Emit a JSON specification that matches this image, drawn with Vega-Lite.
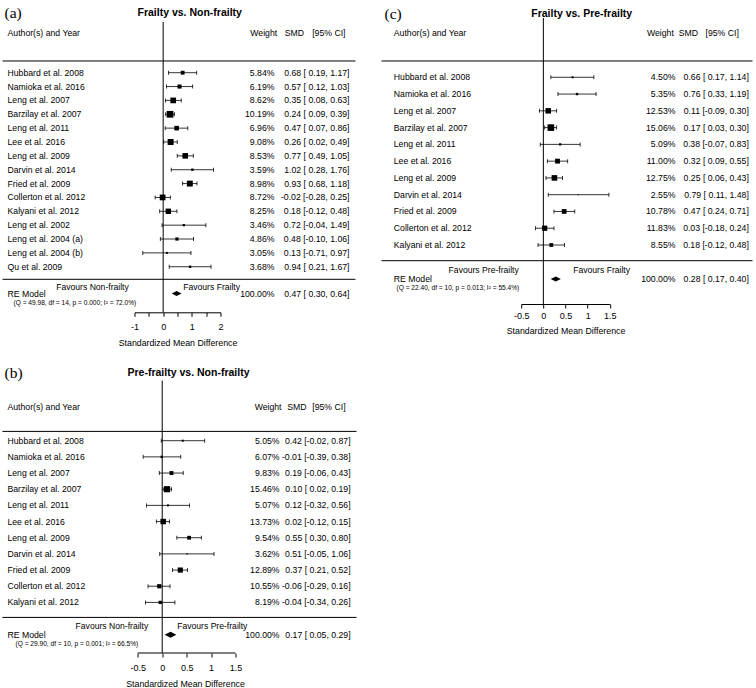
{
"$schema":"https://vega.github.io/schema/vega-lite/v6.json",
"padding":{"left":1.5,"top":0,"right":2,"bottom":0},
"bounds":"flush",
"columns":2,
"spacing":{"row":32.7,"column":285.7},
"resolve":{"scale":{"x":"independent","y":"independent","size":"independent"}},
"config":{
 "view":{"stroke":null},
 "font":"Liberation Sans",
 "axis":{"grid":false,"domainColor":"black","tickColor":"black","labelColor":"black","titleColor":"black","labelFont":"Liberation Sans","titleFont":"Liberation Sans","labelFontSize":9,"titleFontSize":8.8,"titleFontWeight":"normal","tickSize":4,"tickWidth":1,"domainWidth":1,"labelFlush":false,"labelOverlap":false,"tickCount":20},
 "axisY":{"disable":true},
 "text":{"font":"Liberation Sans","fontSize":8.7,"color":"black","baseline":"middle"},
 "rule":{"color":"black","strokeWidth":1},
 "tick":{"color":"black","opacity":1},
 "square":{"color":"black","opacity":1},
 "point":{"color":"black","filled":true,"opacity":1}
},
"datasets":{
 "a":[
  {"row":1,"study":"Hubbard et al. 2008","w":5.84,"wl":"5.84%","est":0.68,"lo":0.19,"hi":1.17,"ci":"0.68 [ 0.19, 1.17]"},
  {"row":2,"study":"Namioka et al. 2016","w":6.19,"wl":"6.19%","est":0.57,"lo":0.12,"hi":1.03,"ci":"0.57 [ 0.12, 1.03]"},
  {"row":3,"study":"Leng et al. 2007","w":8.62,"wl":"8.62%","est":0.35,"lo":0.08,"hi":0.63,"ci":"0.35 [ 0.08, 0.63]"},
  {"row":4,"study":"Barzilay et al. 2007","w":10.19,"wl":"10.19%","est":0.24,"lo":0.09,"hi":0.39,"ci":"0.24 [ 0.09, 0.39]"},
  {"row":5,"study":"Leng et al. 2011","w":6.96,"wl":"6.96%","est":0.47,"lo":0.07,"hi":0.86,"ci":"0.47 [ 0.07, 0.86]"},
  {"row":6,"study":"Lee et al. 2016","w":9.08,"wl":"9.08%","est":0.26,"lo":0.02,"hi":0.49,"ci":"0.26 [ 0.02, 0.49]"},
  {"row":7,"study":"Leng et al. 2009","w":8.53,"wl":"8.53%","est":0.77,"lo":0.49,"hi":1.05,"ci":"0.77 [ 0.49, 1.05]"},
  {"row":8,"study":"Darvin et al. 2014","w":3.59,"wl":"3.59%","est":1.02,"lo":0.28,"hi":1.76,"ci":"1.02 [ 0.28, 1.76]"},
  {"row":9,"study":"Fried et al. 2009","w":8.98,"wl":"8.98%","est":0.93,"lo":0.68,"hi":1.18,"ci":"0.93 [ 0.68, 1.18]"},
  {"row":10,"study":"Collerton et al. 2012","w":8.72,"wl":"8.72%","est":-0.02,"lo":-0.28,"hi":0.25,"ci":"-0.02 [-0.28, 0.25]"},
  {"row":11,"study":"Kalyani et al. 2012","w":8.25,"wl":"8.25%","est":0.18,"lo":-0.12,"hi":0.48,"ci":"0.18 [-0.12, 0.48]"},
  {"row":12,"study":"Leng et al. 2002","w":3.46,"wl":"3.46%","est":0.72,"lo":-0.04,"hi":1.49,"ci":"0.72 [-0.04, 1.49]"},
  {"row":13,"study":"Leng et al. 2004 (a)","w":4.86,"wl":"4.86%","est":0.48,"lo":-0.10,"hi":1.06,"ci":"0.48 [-0.10, 1.06]"},
  {"row":14,"study":"Leng et al. 2004 (b)","w":3.05,"wl":"3.05%","est":0.13,"lo":-0.71,"hi":0.97,"ci":"0.13 [-0.71, 0.97]"},
  {"row":15,"study":"Qu et al. 2009","w":3.68,"wl":"3.68%","est":0.94,"lo":0.21,"hi":1.67,"ci":"0.94 [ 0.21, 1.67]"}
 ],
 "aRE":[{"study":"RE Model","wl":"100.00%","est":0.47,"lo":0.30,"hi":0.64,"ci":"0.47 [ 0.30, 0.64]","q":"(Q = 49.98, df = 14, p = 0.000; I² = 72.0%)"}],
 "b":[
  {"row":1,"study":"Hubbard et al. 2008","w":5.05,"wl":"5.05%","est":0.42,"lo":-0.02,"hi":0.87,"ci":"0.42 [-0.02, 0.87]"},
  {"row":2,"study":"Namioka et al. 2016","w":6.07,"wl":"6.07%","est":-0.01,"lo":-0.39,"hi":0.38,"ci":"-0.01 [-0.39, 0.38]"},
  {"row":3,"study":"Leng et al. 2007","w":9.83,"wl":"9.83%","est":0.19,"lo":-0.06,"hi":0.43,"ci":"0.19 [-0.06, 0.43]"},
  {"row":4,"study":"Barzilay et al. 2007","w":15.46,"wl":"15.46%","est":0.10,"lo":0.02,"hi":0.19,"ci":"0.10 [ 0.02, 0.19]"},
  {"row":5,"study":"Leng et al. 2011","w":5.07,"wl":"5.07%","est":0.12,"lo":-0.32,"hi":0.56,"ci":"0.12 [-0.32, 0.56]"},
  {"row":6,"study":"Lee et al. 2016","w":13.73,"wl":"13.73%","est":0.02,"lo":-0.12,"hi":0.15,"ci":"0.02 [-0.12, 0.15]"},
  {"row":7,"study":"Leng et al. 2009","w":9.54,"wl":"9.54%","est":0.55,"lo":0.30,"hi":0.80,"ci":"0.55 [ 0.30, 0.80]"},
  {"row":8,"study":"Darvin et al. 2014","w":3.62,"wl":"3.62%","est":0.51,"lo":-0.05,"hi":1.06,"ci":"0.51 [-0.05, 1.06]"},
  {"row":9,"study":"Fried et al. 2009","w":12.89,"wl":"12.89%","est":0.37,"lo":0.21,"hi":0.52,"ci":"0.37 [ 0.21, 0.52]"},
  {"row":10,"study":"Collerton et al. 2012","w":10.55,"wl":"10.55%","est":-0.06,"lo":-0.29,"hi":0.16,"ci":"-0.06 [-0.29, 0.16]"},
  {"row":11,"study":"Kalyani et al. 2012","w":8.19,"wl":"8.19%","est":-0.04,"lo":-0.34,"hi":0.26,"ci":"-0.04 [-0.34, 0.26]"}
 ],
 "bRE":[{"study":"RE Model","wl":"100.00%","est":0.17,"lo":0.05,"hi":0.29,"ci":"0.17 [ 0.05, 0.29]","q":"(Q = 29.90, df = 10, p = 0.001; I² = 66.5%)"}],
 "c":[
  {"row":1,"study":"Hubbard et al. 2008","w":4.50,"wl":"4.50%","est":0.66,"lo":0.17,"hi":1.14,"ci":"0.66 [ 0.17, 1.14]"},
  {"row":2,"study":"Namioka et al. 2016","w":5.35,"wl":"5.35%","est":0.76,"lo":0.33,"hi":1.19,"ci":"0.76 [ 0.33, 1.19]"},
  {"row":3,"study":"Leng et al. 2007","w":12.53,"wl":"12.53%","est":0.11,"lo":-0.09,"hi":0.30,"ci":"0.11 [-0.09, 0.30]"},
  {"row":4,"study":"Barzilay et al. 2007","w":15.06,"wl":"15.06%","est":0.17,"lo":0.03,"hi":0.30,"ci":"0.17 [ 0.03, 0.30]"},
  {"row":5,"study":"Leng et al. 2011","w":5.09,"wl":"5.09%","est":0.38,"lo":-0.07,"hi":0.83,"ci":"0.38 [-0.07, 0.83]"},
  {"row":6,"study":"Lee et al. 2016","w":11.00,"wl":"11.00%","est":0.32,"lo":0.09,"hi":0.55,"ci":"0.32 [ 0.09, 0.55]"},
  {"row":7,"study":"Leng et al. 2009","w":12.75,"wl":"12.75%","est":0.25,"lo":0.06,"hi":0.43,"ci":"0.25 [ 0.06, 0.43]"},
  {"row":8,"study":"Darvin et al. 2014","w":2.55,"wl":"2.55%","est":0.79,"lo":0.11,"hi":1.48,"ci":"0.79 [ 0.11, 1.48]"},
  {"row":9,"study":"Fried et al. 2009","w":10.78,"wl":"10.78%","est":0.47,"lo":0.24,"hi":0.71,"ci":"0.47 [ 0.24, 0.71]"},
  {"row":10,"study":"Collerton et al. 2012","w":11.83,"wl":"11.83%","est":0.03,"lo":-0.18,"hi":0.24,"ci":"0.03 [-0.18, 0.24]"},
  {"row":11,"study":"Kalyani et al. 2012","w":8.55,"wl":"8.55%","est":0.18,"lo":-0.12,"hi":0.48,"ci":"0.18 [-0.12, 0.48]"}
 ],
 "cRE":[{"study":"RE Model","wl":"100.00%","est":0.28,"lo":0.17,"hi":0.40,"ci":"0.28 [ 0.17, 0.40]","q":"(Q = 22.40, df = 10, p = 0.013; I² = 55.4%)"}]
},
"concat":[
  {"width":86,"height":312.3,
   "layer":[
    {"data":{"values":[{}]},"mark":"rule","encoding":{
      "x":{"datum":0,"scale":{"domain":[-1,2],"nice":false,"zero":false},"axis":{"title":"Standardized Mean Difference","values":[-1,-0.5,0,0.5,1,1.5,2],"tickCount":20,"labelExpr":"(datum.value == -1 || datum.value == 0 || datum.value == 1 || datum.value == 2) ? '' + datum.value : ''","labelOverlap":false,"labelFlush":false,"labelPadding":6,"titlePadding":7}},
      "y":{"datum":-2.658,"scale":{"domain":[-4.245,18.287],"reverse":true,"nice":false,"zero":false},"axis":null},
      "y2":{"datum":18.287}}},
    {"data":{"values":[{}]},"mark":"rule","encoding":{"x":{"datum":-5.604},"x2":{"datum":6.709},"y":{"datum":0.156}}},
    {"data":{"values":[{}]},"mark":"rule","encoding":{"x":{"datum":-5.604},"x2":{"datum":6.709},"y":{"datum":15.906}}},
    {"data":{"name":"a"},"mark":{"type":"rule","strokeWidth":0.8},"encoding":{"x":{"field":"lo","type":"quantitative"},"x2":{"field":"hi"},"y":{"field":"row","type":"quantitative"}}},
    {"data":{"name":"a"},"mark":{"type":"tick","orient":"vertical","size":4,"thickness":0.8},"encoding":{"x":{"field":"lo","type":"quantitative"},"y":{"field":"row","type":"quantitative"}}},
    {"data":{"name":"a"},"mark":{"type":"tick","orient":"vertical","size":4,"thickness":0.8},"encoding":{"x":{"field":"hi","type":"quantitative"},"y":{"field":"row","type":"quantitative"}}},
    {"data":{"name":"a"},"mark":{"type":"square"},"encoding":{"x":{"field":"est","type":"quantitative"},"y":{"field":"row","type":"quantitative"},"size":{"field":"w","type":"quantitative","scale":{"type":"pow","exponent":2,"domain":[0,10.19],"range":[0,45]},"legend":null}}},
    {"data":{"name":"a"},"mark":{"type":"text","align":"left"},"encoding":{"x":{"datum":-5.43},"y":{"field":"row","type":"quantitative"},"text":{"field":"study"}}},
    {"data":{"name":"a"},"mark":{"type":"text","align":"right"},"encoding":{"x":{"datum":3.884},"y":{"field":"row","type":"quantitative"},"text":{"field":"wl"}}},
    {"data":{"name":"a"},"mark":{"type":"text","align":"right"},"encoding":{"x":{"datum":6.5},"y":{"field":"row","type":"quantitative"},"text":{"field":"ci"}}},
    {"data":{"name":"aRE"},"mark":{"type":"point","shape":"M-1,0L0,-0.5L1,0L0,0.5Z","size":95},"encoding":{"x":{"field":"est","type":"quantitative"},"y":{"datum":16.931}}},
    {"data":{"name":"aRE"},"mark":{"type":"text","align":"left"},"encoding":{"x":{"datum":-5.43},"y":{"datum":16.931},"text":{"field":"study"}}},
    {"data":{"name":"aRE"},"mark":{"type":"text","align":"right"},"encoding":{"x":{"datum":3.884},"y":{"datum":16.931},"text":{"field":"wl"}}},
    {"data":{"name":"aRE"},"mark":{"type":"text","align":"right"},"encoding":{"x":{"datum":6.5},"y":{"datum":16.931},"text":{"field":"ci"}}},
    {"data":{"name":"aRE"},"mark":{"type":"text","align":"left","fontSize":6.6},"encoding":{"x":{"datum":-5.221},"y":{"datum":17.638},"text":{"field":"q"}}},
    {"data":{"values":[{}]},"mark":{"type":"text","align":"right","fontSize":8.6},"encoding":{"x":{"datum":-1.199},"y":{"datum":16.483},"text":{"value":"Favours Non-frailty"}}},
    {"data":{"values":[{}]},"mark":{"type":"text","align":"left","fontSize":8.6},"encoding":{"x":{"datum":0.699},"y":{"datum":16.483},"text":{"value":"Favours Frailty"}}},
    {"data":{"values":[{}]},"mark":{"type":"text","align":"left"},"encoding":{"x":{"datum":-5.43},"y":{"datum":-1.843},"text":{"value":"Author(s) and Year"}}},
    {"data":{"values":[{}]},"mark":{"type":"text","align":"right"},"encoding":{"x":{"datum":3.978},"y":{"datum":-1.843},"text":{"value":"Weight"}}},
    {"data":{"values":[{}]},"mark":{"type":"text","align":"left"},"encoding":{"x":{"datum":4.243},"y":{"datum":-1.843},"text":{"value":"SMD"}}},
    {"data":{"values":[{}]},"mark":{"type":"text","align":"left"},"encoding":{"x":{"datum":5.199},"y":{"datum":-1.843},"text":{"value":"[95% CI]"}}},
    {"data":{"values":[{}]},"mark":{"type":"text","align":"center","fontSize":10.5,"fontWeight":"bold"},"encoding":{"x":{"datum":0.925},"y":{"datum":-3.32},"text":{"value":"Frailty vs. Non-frailty"}}},
    {"data":{"values":[{}]},"mark":{"type":"text","align":"left","font":"Liberation Serif","fontSize":15.5},"encoding":{"x":{"datum":-5.535},"y":{"datum":-3.32},"text":{"value":"(a)"}}}
   ]},
  {"width":88.6,"height":304,
   "layer":[
    {"data":{"values":[{}]},"mark":"rule","encoding":{
      "x":{"datum":0,"scale":{"domain":[-0.5,1.5],"nice":false,"zero":false},"axis":{"title":"Standardized Mean Difference","values":[-0.5,0,0.5,1,1.5],"tickCount":20,"labelExpr":"'' + datum.value","labelOverlap":false,"labelFlush":false,"labelPadding":3,"titlePadding":6}},
      "y":{"datum":-2.536,"scale":{"domain":[-3.609,14.518],"reverse":true,"nice":false,"zero":false},"axis":null},
      "y2":{"datum":14.518}}},
    {"data":{"values":[{}]},"mark":"rule","encoding":{"x":{"datum":-3.654},"x2":{"datum":4.721},"y":{"datum":0.028}}},
    {"data":{"values":[{}]},"mark":"rule","encoding":{"x":{"datum":-3.654},"x2":{"datum":4.721},"y":{"datum":11.936}}},
    {"data":{"name":"c"},"mark":{"type":"rule","strokeWidth":0.8},"encoding":{"x":{"field":"lo","type":"quantitative"},"x2":{"field":"hi"},"y":{"field":"row","type":"quantitative"}}},
    {"data":{"name":"c"},"mark":{"type":"tick","orient":"vertical","size":4,"thickness":0.8},"encoding":{"x":{"field":"lo","type":"quantitative"},"y":{"field":"row","type":"quantitative"}}},
    {"data":{"name":"c"},"mark":{"type":"tick","orient":"vertical","size":4,"thickness":0.8},"encoding":{"x":{"field":"hi","type":"quantitative"},"y":{"field":"row","type":"quantitative"}}},
    {"data":{"name":"c"},"mark":{"type":"square"},"encoding":{"x":{"field":"est","type":"quantitative"},"y":{"field":"row","type":"quantitative"},"size":{"field":"w","type":"quantitative","scale":{"type":"pow","exponent":2,"domain":[0,15.06],"range":[0,44]},"legend":null}}},
    {"data":{"name":"c"},"mark":{"type":"text","align":"left"},"encoding":{"x":{"datum":-3.376},"y":{"field":"row","type":"quantitative"},"text":{"field":"study"}}},
    {"data":{"name":"c"},"mark":{"type":"text","align":"right"},"encoding":{"x":{"datum":2.983},"y":{"field":"row","type":"quantitative"},"text":{"field":"wl"}}},
    {"data":{"name":"c"},"mark":{"type":"text","align":"right"},"encoding":{"x":{"datum":4.638},"y":{"field":"row","type":"quantitative"},"text":{"field":"ci"}}},
    {"data":{"name":"cRE"},"mark":{"type":"point","shape":"M-1,0L0,-0.5L1,0L0,0.5Z","size":104},"encoding":{"x":{"field":"est","type":"quantitative"},"y":{"datum":13.03}}},
    {"data":{"name":"cRE"},"mark":{"type":"text","align":"left"},"encoding":{"x":{"datum":-3.376},"y":{"datum":13.03},"text":{"field":"study"}}},
    {"data":{"name":"cRE"},"mark":{"type":"text","align":"right"},"encoding":{"x":{"datum":2.983},"y":{"datum":13.03},"text":{"field":"wl"}}},
    {"data":{"name":"cRE"},"mark":{"type":"text","align":"right"},"encoding":{"x":{"datum":4.638},"y":{"datum":13.03},"text":{"field":"ci"}}},
    {"data":{"name":"cRE"},"mark":{"type":"text","align":"left","fontSize":6.6},"encoding":{"x":{"datum":-3.315},"y":{"datum":13.58},"text":{"field":"q"}}},
    {"data":{"values":[{}]},"mark":{"type":"text","align":"right","fontSize":8.6},"encoding":{"x":{"datum":-0.554},"y":{"datum":12.49},"text":{"value":"Favours Pre-frailty"}}},
    {"data":{"values":[{}]},"mark":{"type":"text","align":"left","fontSize":8.6},"encoding":{"x":{"datum":0.674},"y":{"datum":12.49},"text":{"value":"Favours Frailty"}}},
    {"data":{"values":[{}]},"mark":{"type":"text","align":"left"},"encoding":{"x":{"datum":-3.376},"y":{"datum":-1.624},"text":{"value":"Author(s) and Year"}}},
    {"data":{"values":[{}]},"mark":{"type":"text","align":"right"},"encoding":{"x":{"datum":2.945},"y":{"datum":-1.624},"text":{"value":"Weight"}}},
    {"data":{"values":[{}]},"mark":{"type":"text","align":"left"},"encoding":{"x":{"datum":3.058},"y":{"datum":-1.624},"text":{"value":"SMD"}}},
    {"data":{"values":[{}]},"mark":{"type":"text","align":"left"},"encoding":{"x":{"datum":3.66},"y":{"datum":-1.624},"text":{"value":"[95% CI]"}}},
    {"data":{"values":[{}]},"mark":{"type":"text","align":"center","fontSize":10.5,"fontWeight":"bold"},"encoding":{"x":{"datum":0.866},"y":{"datum":-2.804},"text":{"value":"Frailty vs. Pre-frailty"}}},
    {"data":{"values":[{}]},"mark":{"type":"text","align":"left","font":"Liberation Serif","fontSize":15.5},"encoding":{"x":{"datum":-3.586},"y":{"datum":-2.804},"text":{"value":"(c)"}}}
   ]},
 {"width":101,"height":307.3,
  "layer":[
    {"data":{"values":[{}]},"mark":"rule","encoding":{
      "x":{"datum":0,"scale":{"domain":[-0.567,1.5],"nice":false,"zero":false},"axis":{"title":"Standardized Mean Difference","domain":false,"values":[-0.5,0,0.5,1,1.5],"tickCount":20,"labelExpr":"'' + datum.value","labelOverlap":false,"labelFlush":false,"labelPadding":6,"titlePadding":7}},
      "y":{"datum":-2.711,"scale":{"domain":[-4.875,14.129],"reverse":true,"nice":false,"zero":false},"axis":null},
      "y2":{"datum":14.129}}},
    {"data":{"values":[{}]},"mark":"rule","encoding":{"x":{"datum":-0.5},"x2":{"datum":1.5},"y":{"datum":14.129}}},
    {"data":{"values":[{}]},"mark":"rule","encoding":{"x":{"datum":-3.269},"x2":{"datum":3.977},"y":{"datum":0.425}}},
    {"data":{"values":[{}]},"mark":"rule","encoding":{"x":{"datum":-3.269},"x2":{"datum":3.977},"y":{"datum":11.928}}},
    {"data":{"name":"b"},"mark":{"type":"rule","strokeWidth":0.8},"encoding":{"x":{"field":"lo","type":"quantitative"},"x2":{"field":"hi"},"y":{"field":"row","type":"quantitative"}}},
    {"data":{"name":"b"},"mark":{"type":"tick","orient":"vertical","size":4,"thickness":0.8},"encoding":{"x":{"field":"lo","type":"quantitative"},"y":{"field":"row","type":"quantitative"}}},
    {"data":{"name":"b"},"mark":{"type":"tick","orient":"vertical","size":4,"thickness":0.8},"encoding":{"x":{"field":"hi","type":"quantitative"},"y":{"field":"row","type":"quantitative"}}},
    {"data":{"name":"b"},"mark":{"type":"square"},"encoding":{"x":{"field":"est","type":"quantitative"},"y":{"field":"row","type":"quantitative"},"size":{"field":"w","type":"quantitative","scale":{"type":"pow","exponent":2,"domain":[0,15.46],"range":[0,38]},"legend":null}}},
    {"data":{"name":"b"},"mark":{"type":"text","align":"left"},"encoding":{"x":{"datum":-3.167},"y":{"field":"row","type":"quantitative"},"text":{"field":"study"}}},
    {"data":{"name":"b"},"mark":{"type":"text","align":"right"},"encoding":{"x":{"datum":2.401},"y":{"field":"row","type":"quantitative"},"text":{"field":"wl"}}},
    {"data":{"name":"b"},"mark":{"type":"text","align":"right"},"encoding":{"x":{"datum":3.855},"y":{"field":"row","type":"quantitative"},"text":{"field":"ci"}}},
    {"data":{"name":"bRE"},"mark":{"type":"point","shape":"M-1,0L0,-0.5L1,0L0,0.5Z","size":137},"encoding":{"x":{"field":"est","type":"quantitative"},"y":{"datum":12.998}}},
    {"data":{"name":"bRE"},"mark":{"type":"text","align":"left"},"encoding":{"x":{"datum":-3.167},"y":{"datum":12.998},"text":{"field":"study"}}},
    {"data":{"name":"bRE"},"mark":{"type":"text","align":"right"},"encoding":{"x":{"datum":2.401},"y":{"datum":12.998},"text":{"field":"wl"}}},
    {"data":{"name":"bRE"},"mark":{"type":"text","align":"right"},"encoding":{"x":{"datum":3.855},"y":{"datum":12.998},"text":{"field":"ci"}}},
    {"data":{"name":"bRE"},"mark":{"type":"text","align":"left","fontSize":6.6},"encoding":{"x":{"datum":-3.003},"y":{"datum":13.573},"text":{"field":"q"}}},
    {"data":{"values":[{}]},"mark":{"type":"text","align":"right","fontSize":8.6},"encoding":{"x":{"datum":-0.287},"y":{"datum":12.484},"text":{"value":"Favours Non-frailty"}}},
    {"data":{"values":[{}]},"mark":{"type":"text","align":"left","fontSize":8.6},"encoding":{"x":{"datum":0.307},"y":{"datum":12.484},"text":{"value":"Favours Pre-frailty"}}},
    {"data":{"values":[{}]},"mark":{"type":"text","align":"left"},"encoding":{"x":{"datum":-3.167},"y":{"datum":-1.059},"text":{"value":"Author(s) and Year"}}},
    {"data":{"values":[{}]},"mark":{"type":"text","align":"right"},"encoding":{"x":{"datum":2.442},"y":{"datum":-1.059},"text":{"value":"Weight"}}},
    {"data":{"values":[{}]},"mark":{"type":"text","align":"left"},"encoding":{"x":{"datum":2.559},"y":{"datum":-1.059},"text":{"value":"SMD"}}},
    {"data":{"values":[{}]},"mark":{"type":"text","align":"left"},"encoding":{"x":{"datum":3.071},"y":{"datum":-1.059},"text":{"value":"[95% CI]"}}},
    {"data":{"values":[{}]},"mark":{"type":"text","align":"center","fontSize":10.5,"fontWeight":"bold"},"encoding":{"x":{"datum":0.538},"y":{"datum":-3.205},"text":{"value":"Pre-frailty vs. Non-frailty"}}},
    {"data":{"values":[{}]},"mark":{"type":"text","align":"left","font":"Liberation Serif","fontSize":15.5},"encoding":{"x":{"datum":-3.228},"y":{"datum":-3.205},"text":{"value":"(b)"}}}
  ]}
]
}
